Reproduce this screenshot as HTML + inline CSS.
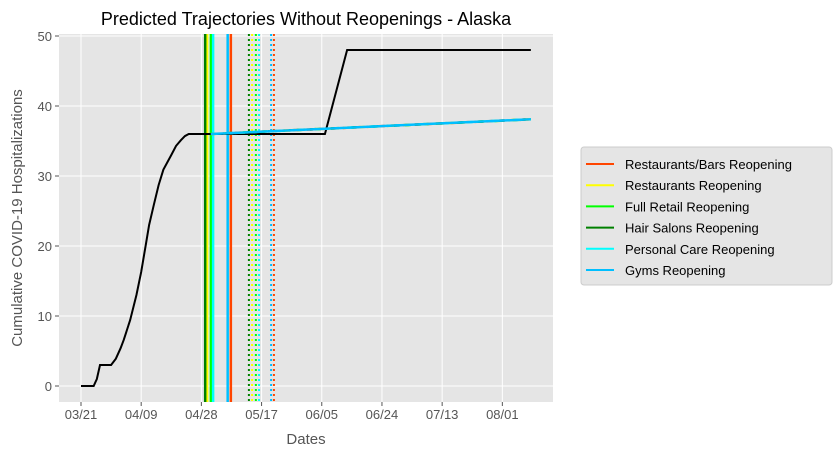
<!DOCTYPE html>
<html><head><meta charset="utf-8"><style>
body{margin:0;background:#fff;font-family:"Liberation Sans","DejaVu Sans",sans-serif}
</style></head><body>
<svg id="c" width="838" height="457" xmlns="http://www.w3.org/2000/svg"></svg>
<script>
const tickLabels=["03/21","04/09","04/28","05/17","06/05","06/24","07/13","08/01"];
const tickDays=[0,19,38,57,76,95,114,133];
const yTicks=[0,10,20,30,40,50];
const actualDays=[0,4,5,6,9.5,11,12.5,13.5,15.5,17.5,19,20.5,21.5,23,24.5,26,28.5,30,31.5,32.8,34,37,77,84,142];
const actualVals=[0,0,1,3,3,3.9,5.4,6.6,9.4,13,16.3,20.3,23,25.9,28.7,30.9,33,34.3,35.1,35.7,36,36,36,48,48];
const seriesNames=["Restaurants/Bars Reopening","Restaurants Reopening","Full Retail Reopening","Hair Salons Reopening","Personal Care Reopening","Gyms Reopening"];
const seriesColors=["#ff4500","#ffff00","#00ff00","#008000","#00ffff","#00bfff"];
const solidDays=[47.3,39.8,41.0,39.2,41.7,46.3];
const dottedDays=[60.9,54.0,55.2,53.0,56.2,60.0];
const projStartDay=41,projEndDay=142,projStartVal=36,projEndVal=38.1;

const svg=document.getElementById('c');const NS="http://www.w3.org/2000/svg";
const L=59,R=553,T=34,B=402;
const xs=d=>81+d*3.168;
const ys=v=>386-v*7;
function mk(t,a,p){const e=document.createElementNS(NS,t);for(const k in a)e.setAttribute(k,a[k]);(p||svg).appendChild(e);return e;}
const bg=mk('rect',{x:L,y:T,width:R-L,height:B-T,fill:'#e5e5e5'});


tickDays.forEach((d,i)=>{
 const g=mk('line',{x1:xs(d),x2:xs(d),y1:T,y2:B,stroke:'#fff','stroke-width':1});
 
 
 mk('line',{x1:xs(d),x2:xs(d),y1:B,y2:B+4,stroke:'#555'});
 const t=mk('text',{x:xs(d),y:B+17,'text-anchor':'middle','font-size':13,fill:'#555'});t.textContent=tickLabels[i];
 
 
});
yTicks.forEach(v=>{
 const g=mk('line',{x1:L,x2:R,y1:ys(v),y2:ys(v),stroke:'#fff','stroke-width':1});
 
 
 mk('line',{x1:L-4,x2:L,y1:ys(v),y2:ys(v),stroke:'#555'});
 const t=mk('text',{x:L-7,y:ys(v)+5,'text-anchor':'end','font-size':13,fill:'#555'});t.textContent=v;
 
 
});
seriesNames.forEach((n,i)=>{
 const s=mk('line',{x1:xs(solidDays[i]),x2:xs(solidDays[i]),y1:T,y2:B,stroke:seriesColors[i],'stroke-width':2.5});
 
 
 const d=mk('line',{x1:xs(dottedDays[i]),x2:xs(dottedDays[i]),y1:T,y2:B,stroke:seriesColors[i],'stroke-width':2,'stroke-dasharray':'2,3'});
 
 
});
const ap=mk('polyline',{points:actualDays.map((d,i)=>xs(d)+','+ys(actualVals[i])).join(' '),fill:'none',stroke:'#000','stroke-width':2});


seriesNames.forEach((n,i)=>{
 const p=mk('line',{x1:xs(projStartDay),y1:ys(projStartVal),x2:xs(projEndDay),y2:ys(projEndVal),stroke:seriesColors[i],'stroke-width':2.5,'stroke-dasharray':i==5?'none':'6,'+(6+i*3),'stroke-dashoffset':i*2});
 
 
});
const tt=mk('text',{x:306,y:25,'text-anchor':'middle','font-size':18,fill:'#000'});tt.textContent="Predicted Trajectories Without Reopenings - Alaska";


const xt=mk('text',{x:306,y:444,'text-anchor':'middle','font-size':15,fill:'#555'});xt.textContent="Dates";


const yt=mk('text',{x:0,y:0,'text-anchor':'middle','font-size':15,fill:'#555',transform:'translate(22,218) rotate(-90)'});yt.textContent="Cumulative COVID-19 Hospitalizations";


const lg=mk('rect',{x:581,y:147,width:251,height:138,fill:'#e5e5e5',stroke:'#ccc',rx:3});


seriesNames.forEach((n,i)=>{
 const y=164+i*21.2;
 mk('line',{x1:586,x2:614,y1:y,y2:y,stroke:seriesColors[i],'stroke-width':2});
 const t=mk('text',{x:625,y:y+5,'font-size':13,fill:'#000'});t.textContent=n;
 
 
});
</script>
</body></html>
